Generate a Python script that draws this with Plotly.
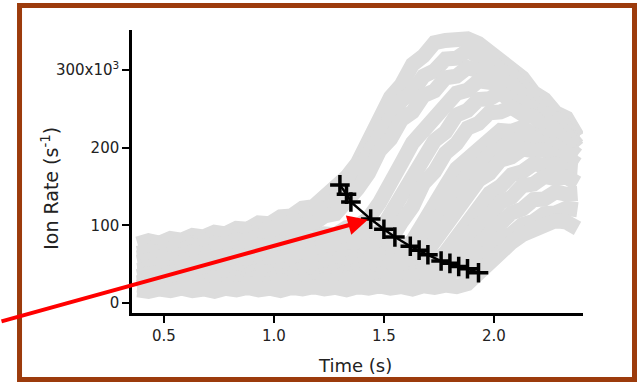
import plotly.graph_objects as go

# ---- data (rates in thousands of ions per second) ----
time_s = [0.38, 0.43, 0.48, 0.53, 0.58, 0.63, 0.68, 0.73, 0.78, 0.83,
          0.88, 0.93, 0.98, 1.03, 1.08, 1.13, 1.18, 1.23, 1.28, 1.33,
          1.38, 1.43, 1.48, 1.53, 1.58, 1.63, 1.68, 1.73, 1.78, 1.83,
          1.88, 1.93, 1.98, 2.03, 2.08, 2.13, 2.18, 2.23, 2.28, 2.33, 2.38]

trace01 = [76, 80, 77, 83, 81, 87, 85, 91, 89, 96, 95, 103, 102, 111, 112, 122, 124, 137, 144, 162,
           180, 211, 233, 265, 281, 307, 318, 335, 338, 341, 340, 334, 322, 315, 297, 290, 271, 262, 245, 238, 214]
trace02 = [70, 68, 75, 72, 79, 76, 82, 79, 86, 84, 91, 89, 97, 96, 106, 105, 116, 119, 133, 138,
           169, 190, 219, 235, 261, 272, 292, 299, 314, 315, 325, 317, 314, 299, 294, 277, 270, 251, 244, 224, 214]
trace03 = [64, 67, 65, 70, 68, 74, 71, 77, 75, 81, 79, 86, 85, 93, 92, 101, 102, 112, 115, 129,
           147, 167, 196, 211, 236, 246, 267, 273, 290, 292, 303, 299, 299, 286, 283, 267, 261, 243, 237, 218, 210]
trace04 = [58, 61, 59, 63, 61, 66, 63, 68, 66, 71, 68, 74, 72, 78, 76, 83, 82, 89, 88, 97,
           99, 109, 129, 160, 180, 206, 221, 243, 253, 270, 274, 286, 284, 282, 270, 265, 250, 244, 228, 220, 203]
trace05 = [52, 55, 52, 57, 54, 58, 56, 60, 58, 62, 60, 64, 62, 67, 64, 70, 68, 75, 74, 81,
           82, 90, 91, 114, 136, 167, 183, 209, 220, 242, 248, 262, 263, 271, 259, 258, 243, 239, 222, 217, 200]
trace06 = [47, 46, 50, 48, 52, 50, 54, 51, 55, 53, 57, 55, 59, 57, 61, 60, 64, 63, 68, 67,
           73, 72, 80, 81, 104, 124, 154, 169, 193, 205, 225, 231, 245, 246, 252, 243, 240, 226, 222, 206, 199]
trace07 = [42, 44, 41, 45, 43, 46, 44, 47, 45, 49, 46, 50, 48, 52, 50, 54, 52, 56, 55, 59,
           58, 64, 61, 68, 69, 80, 103, 132, 150, 173, 185, 203, 209, 222, 221, 226, 216, 215, 204, 201, 190]
trace08 = [38, 36, 40, 38, 42, 39, 43, 40, 44, 42, 45, 43, 47, 44, 48, 46, 50, 48, 52, 50,
           55, 54, 59, 58, 63, 66, 80, 100, 128, 144, 166, 175, 193, 198, 210, 209, 213, 204, 203, 192, 189]
trace09 = [34, 37, 34, 37, 35, 38, 36, 39, 37, 40, 38, 41, 39, 43, 40, 44, 42, 46, 44, 48,
           47, 51, 49, 55, 54, 60, 60, 79, 98, 123, 137, 158, 167, 184, 188, 198, 196, 197, 188, 187, 178]
trace10 = [30, 28, 32, 29, 33, 30, 34, 31, 35, 32, 36, 33, 37, 34, 38, 35, 39, 37, 41, 38,
           43, 40, 45, 43, 48, 47, 52, 51, 65, 83, 107, 121, 141, 150, 165, 169, 179, 177, 179, 171, 170]
trace11 = [26, 29, 26, 29, 27, 30, 27, 31, 28, 32, 29, 33, 30, 34, 31, 35, 32, 36, 34, 38,
           35, 40, 37, 42, 40, 45, 43, 49, 48, 66, 79, 101, 112, 130, 136, 151, 153, 163, 160, 162, 154]
trace12 = [23, 21, 25, 22, 26, 23, 27, 24, 28, 25, 29, 26, 30, 27, 31, 28, 32, 29, 33, 31,
           35, 32, 37, 34, 39, 37, 42, 40, 46, 45, 62, 74, 92, 101, 116, 121, 133, 134, 143, 140, 141]
trace13 = [20, 23, 20, 23, 21, 24, 21, 25, 22, 26, 23, 26, 24, 27, 25, 28, 26, 29, 27, 31,
           29, 32, 30, 34, 32, 36, 35, 39, 38, 43, 44, 59, 67, 83, 89, 101, 105, 115, 116, 122, 120]
trace14 = [17, 15, 18, 16, 19, 16, 18, 15, 19, 17, 20, 17, 19, 16, 20, 18, 21, 18, 20, 17,
           21, 19, 22, 19, 21, 18, 22, 20, 23, 21, 25, 39, 52, 66, 78, 88, 95, 99, 106, 104, 96]

gray_traces = [trace01, trace02, trace03, trace04, trace05, trace06, trace07,
               trace08, trace09, trace10, trace11, trace12, trace13, trace14]

onset_time = [1.30, 1.33, 1.35, 1.44, 1.50, 1.55, 1.62, 1.66, 1.70, 1.76, 1.80, 1.84, 1.88, 1.93]
onset_rate = [152, 140, 130, 108, 95, 85, 73, 68, 62, 54, 51, 47, 44, 39]

y_tick_vals = [0, 100, 200, 300]
y_tick_text = ["0", "100", "200", "300x10<sup>3</sup>"]
x_tick_vals = [0.5, 1.0, 1.5, 2.0]
x_tick_text = ["0.5", "1.0", "1.5", "2.0"]

arrow_tip_time = 1.427
arrow_tip_rate = 107

FONT = "DejaVu Sans, Arial, sans-serif"

fig = go.Figure()
for tr in gray_traces:
    fig.add_trace(go.Scatter(x=time_s, y=tr, mode="lines",
                             line=dict(color="#dcdcdc", width=15),
                             showlegend=False, hoverinfo="skip"))

fig.add_trace(go.Scatter(x=onset_time, y=onset_rate, mode="lines+markers",
                         line=dict(color="black", width=2.5),
                         marker=dict(symbol="cross-thin", size=14, color="black",
                                     line=dict(color="black", width=3.5)),
                         showlegend=False))

fig.update_layout(
    width=641, height=382,
    margin=dict(l=132, r=58, t=30, b=69),
    paper_bgcolor="white", plot_bgcolor="white",
    font=dict(family=FONT, color="#222"),
    xaxis=dict(range=[0.355, 2.405], showgrid=False, zeroline=False,
               showline=True, linecolor="black", linewidth=2.5,
               ticks="outside", ticklen=7, tickwidth=2, tickcolor="black",
               tickvals=x_tick_vals, ticktext=x_tick_text,
               tickfont=dict(family=FONT, size=15, color="#222")),
    yaxis=dict(range=[-12.9, 351.4], showgrid=False, zeroline=False,
               showline=True, linecolor="black", linewidth=2.5,
               ticks="outside", ticklen=7, tickwidth=2, tickcolor="black",
               tickvals=y_tick_vals, ticktext=y_tick_text,
               tickfont=dict(family=FONT, size=15, color="#222")),
    shapes=[dict(type="rect", xref="paper", yref="paper",
                 x0=-0.2494, x1=1.1142, y0=-0.235, y1=1.0866,
                 line=dict(color="#9c3b0c", width=5), fillcolor="rgba(0,0,0,0)",
                 layer="above")],
    annotations=[
        dict(text="Time (s)", xref="paper", yref="paper", x=0.494, y=-0.187,
             xanchor="center", yanchor="middle", showarrow=False,
             font=dict(family=FONT, size=18, color="#222")),
        dict(text="Ion Rate (s<sup>-1</sup>)", xref="paper", yref="paper",
             x=-0.182, y=0.442, xanchor="center", yanchor="middle",
             textangle=-90, showarrow=False,
             font=dict(family=FONT, size=19, color="#222")),
        dict(text="", x=arrow_tip_time, y=arrow_tip_rate, xref="x", yref="y",
             showarrow=True, ax=-368, ay=102, axref="pixel", ayref="pixel",
             arrowcolor="#ff0000", arrowwidth=4, arrowhead=2, arrowsize=1),
    ],
)

fig.write_html("out.html", config={"displayModeBar": False},
               post_script="document.body.style.margin='0px';")
